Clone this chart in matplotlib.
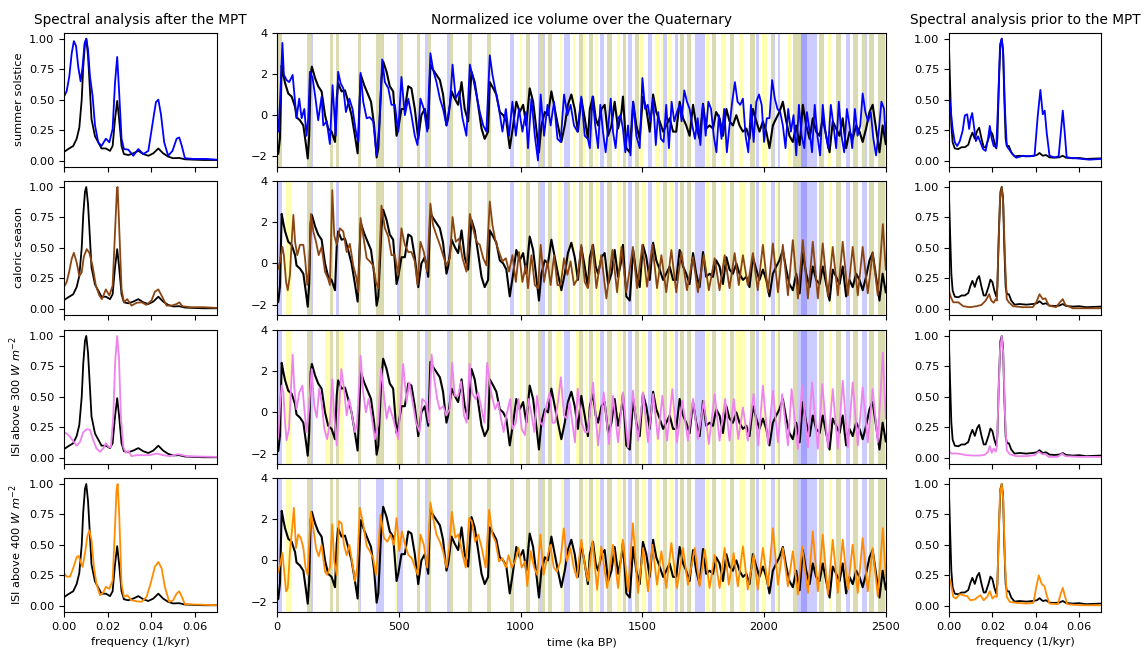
import matplotlib
matplotlib.use("Agg")
import matplotlib.pyplot as plt

plt.rcParams["font.size"] = 8.2

# ---------------- time series (ka BP, normalized) ----------------
ice_t = [0, 4, 11, 18, 25, 32, 45, 59, 73, 79, 93, 107, 118, 125, 131, 137, 142, 155, 168, 182,
         196, 209, 223, 237, 244, 250, 264, 278, 291, 305, 319, 330, 337, 343, 357, 371, 385, 398,
         408, 415, 428, 435, 449, 462, 476, 490, 497, 510, 524, 538, 551, 565, 579, 592, 606, 620,
         629, 640, 654, 668, 681, 695, 702, 716, 729, 743, 757, 770, 784, 798, 811, 825, 839, 852,
         866, 873, 887, 900, 914, 928, 941, 955, 969, 982, 996, 1010, 1023, 1037, 1051, 1064, 1075,
         1085, 1099, 1112, 1126, 1140, 1153, 1167, 1181, 1194, 1208, 1222, 1235, 1249, 1263, 1276,
         1284, 1297, 1308, 1318, 1332, 1345, 1359, 1373, 1386, 1400, 1414, 1420, 1434, 1448, 1462,
         1475, 1489, 1502, 1516, 1530, 1544, 1557, 1571, 1585, 1598, 1612, 1626, 1639, 1653, 1667,
         1680, 1694, 1708, 1721, 1735, 1749, 1762, 1776, 1790, 1803, 1817, 1831, 1845, 1858, 1872,
         1886, 1899, 1913, 1927, 1940, 1954, 1968, 1981, 1995, 2009, 2022, 2036, 2050, 2063, 2077,
         2091, 2104, 2118, 2132, 2146, 2159, 2173, 2187, 2200, 2214, 2228, 2241, 2255, 2269, 2282,
         2296, 2310, 2323, 2337, 2351, 2364, 2378, 2392, 2405, 2419, 2433, 2446, 2460, 2474, 2487,
         2500]
ice_v = [-1.9, -1.87, -1.1, 2.4, 1.95, 1.55, 1.05, 0.9, 0.4, -0.1, -0.25, -0.5, -1.45, -2.1, -1.0,
         1.95, 2.35, 1.8, 1.4, 1.15, 0.0, -0.65, -0.8, -1.3, 0.8, 1.55, 1.15, 1.2, 0.65, 0.0, -1.0,
         -1.85, 0.3, 1.95, 1.45, 1.05, 0.65, -0.5, -2.05, -1.6, 1.7, 2.6, 2.1, 1.4, 1.15, -1.0,
         -0.65, 0.3, 0.3, 1.4, 1.3, 0.3, -1.15, 0.0, 0.3, -0.65, 2.45, 2.2, 1.95, 1.7, 1.0, -0.5,
         -0.15, 1.15, 0.8, 0.5, 1.6, 0.3, -0.3, 2.1, 1.6, 0.5, -0.65, -1.15, -0.8, 1.6, 1.3, 1.0,
         0.15, 0.0, -0.3, -1.6, -0.5, 0.65, 0.15, 0.5, -0.5, 1.3, 0.65, -0.65, -1.8, -0.5, 0.15,
         0.0, 1.15, 0.3, -0.5, -1.3, -0.5, 0.5, 1.0, 0.3, -0.8, 0.8, -0.15, -1.15,
         0.3, 0.9, -0.15, -0.5, 0.3, 0.5, -1.0, -0.5, 0.65, -0.65, 0.15, 0.9, -1.6, -1.8, 0.65,
         -0.5, -1.15, 0.9, 0.3, -0.8, 1.0, 0.15, -0.3, -0.8, -0.5, -0.15, -0.8, -0.8, 0.65, -0.15,
         -0.5, -1.0, 0.5, -0.5, -1.15, 0.55, -0.65, -0.5, -0.65, 0.15, -0.15, -1.0, 0.3, -0.3, -0.5,
         0.0, -0.5, -0.8, -0.65, -1.15, 0.3, -0.3, -0.8, -0.3, -0.8, -1.6, -0.5, -0.15, 0.15, 0.65,
         -0.3, -1.0, -1.3, -0.5, -1.45, 0.5, -0.5, -1.15, -0.15, -0.8, -1.0, -0.15, -1.0, -1.8, -0.3,
         -0.65, -1.0, -0.15, -1.6, -0.8, -1.15, -0.5, -0.8, -1.3, -0.65, 0.15, 0.5, -0.65, -1.8, -0.5,
         -1.4]

sol_t = [0, 4, 11, 21, 27, 38, 49, 63, 73, 79, 90, 100, 111, 120, 127, 134, 145, 157, 168, 182,
         189, 203, 216, 227, 240, 250, 260, 271, 282, 296, 309, 323, 333, 342, 353, 367, 380, 394,
         408, 419, 431, 442, 456, 469, 483, 497, 510, 524, 538, 551, 565, 576, 588, 602, 616, 629,
         640, 654, 668, 681, 695, 709, 720, 733, 747, 761, 777, 791, 804, 818, 832, 846, 859, 873,
         884, 897, 911, 925, 939, 952, 966, 980, 993, 1007, 1021, 1030, 1044, 1058, 1071, 1082, 1096,
         1110, 1123, 1137, 1151, 1164, 1178, 1192, 1205, 1219, 1233, 1249, 1263, 1276,
         1284, 1295, 1306, 1318, 1327, 1338, 1349, 1360, 1370, 1379, 1390, 1400, 1410, 1420, 1430,
         1441, 1451, 1462, 1475, 1489, 1500, 1511, 1522, 1533, 1544, 1555, 1565, 1576, 1587, 1598,
         1609, 1620, 1631, 1642, 1653, 1661, 1672, 1683, 1694, 1705, 1716, 1727, 1738, 1749, 1760,
         1771, 1782, 1793, 1804, 1814, 1825, 1836, 1847, 1858, 1869, 1880, 1891, 1902, 1913, 1924,
         1935, 1946, 1957, 1968, 1979, 1990, 2000, 2011, 2022, 2033, 2044, 2055, 2066, 2077, 2088,
         2099, 2110, 2121, 2132, 2143, 2154, 2165, 2176, 2187, 2197, 2208, 2219, 2230, 2241, 2252,
         2263, 2274, 2285, 2296, 2307, 2318, 2329, 2340, 2351, 2362, 2373, 2384, 2395, 2405, 2416,
         2427, 2438, 2449, 2460, 2471, 2482, 2493, 2500]
sol_v = [-0.8, -0.8, 0.6, 3.5, 1.95, 1.7, 1.6, 1.95, 0.65, -0.15, 0.8, -0.15, 0.3, -1.0, -0.15,
         2.1, 1.8, 0.8, -0.25, 0.9, -0.5, -0.3, -1.4, 1.45, -1.0, 2.1, 1.55, 1.3, 0.15, 0.8, 0.3,
         -0.8, -1.3, 2.05, 0.65, -0.15, -0.1, -0.3, -1.95, -0.5, 2.7, 1.6, 1.3, 0.5, 0.5, -0.8, 1.85,
         0.0, 0.8, 0.0, -1.0, -1.45, 0.8, 0.3, -0.8, 3.0, 2.2, 1.6, 0.8, 0.3, -0.5, 0.5, 2.45, 0.8,
         1.15, -0.15, -1.0, 2.45, 1.8, 1.0, 0.15, -0.5, -0.8, 2.9, 1.95, 1.15, 0.3, -0.8, 0.3, -1.0,
         0.65, -1.0, 0.3, -0.8, 0.15, -1.6, 0.8, -1.0, -2.2, 1.0, -1.0, 0.5, -0.5, 0.65, -1.15, -1.3,
         1.0, 0.0, 0.5, -0.5, -0.8, 0.9, -1.0, -1.15,
         -1.6, 0.9, -0.5, -1.6, 0.5, -0.8, -1.8, -0.5, 0.8, -0.8, -1.6, -0.15, 0.0, -0.65, -1.8,
         -0.5, -1.95, 0.65, -1.0, -1.6, 1.8, 0.3, 0.5, -0.3, 0.8, -1.45, 0.15, -1.15, -1.3, 0.5,
         -1.6, 0.65, -0.3, 0.15, 0.5, -0.3, 1.2, 0.65, 0.3, -0.5, -1.15, -0.15, -1.45, 0.5, -1.0,
         0.65, 0.3, -1.0, -1.8, 0.0, -1.15, 0.3, -1.8, -0.5, 0.65, 1.6, 0.65, 0.5, 0.8, -1.0,
         -1.8, 0.5, -1.3, 0.65, 1.0, 0.5, -1.3, -0.15, -0.15, 1.7, 0.8, 0.3, 0.15, -0.5, -1.6,
         0.3, -0.8, 0.0, -1.95, 0.5, -1.0, -1.6, 0.15, -0.8, -1.8, 0.5, -1.0, -1.95, 0.5, -0.8,
         -1.6, 0.5, -0.5, -1.6, 0.65, -1.0, -1.8, 0.3, -0.5, -1.6, 0.3, -1.0, -0.5, 1.05, 0.15,
         -0.3, 0.15, -1.15, -1.95, -0.8, 0.65, 0.3, -1.15]

cal_t = [0, 4, 11, 21, 27, 36, 43, 52, 59, 66, 73, 82, 93, 107, 114, 123, 131, 138, 148, 159,
         170, 182, 196, 209, 216, 226, 234, 244, 257, 271, 285, 298, 312, 326, 333, 342, 353, 367,
         380, 394, 405, 415, 428, 442, 456, 469, 483, 497, 510, 524, 538, 551, 565, 576, 588, 602,
         616, 629, 640, 654, 668, 681, 695, 709, 720, 733, 747, 761, 777, 791, 804, 818, 832, 846,
         859, 873, 884, 897, 911, 925, 939, 952, 966, 980, 993, 1007, 1021, 1030, 1044, 1058, 1071,
         1082, 1096, 1110, 1123, 1137, 1151, 1164, 1178, 1192, 1205, 1219, 1233, 1249, 1263, 1276,
         1295, 1311, 1331, 1352, 1377, 1396, 1414, 1434, 1461, 1478, 1500, 1519, 1541, 1560, 1578,
         1598, 1619, 1639, 1660, 1683, 1708, 1728, 1752, 1773, 1797, 1817, 1838, 1858, 1879, 1896,
         1913, 1933, 1954, 1974, 1995, 2016, 2036, 2057, 2077, 2098, 2118, 2139, 2159, 2180, 2200,
         2221, 2241, 2262, 2282, 2303, 2323, 2344, 2364, 2385, 2405, 2426, 2446, 2467, 2488, 2500]
cal_v = [-0.3, -0.25, 0.1, 0.8, 0.4, -0.9, -1.3, -0.55, 1.05, 2.35, 1.05, 0.4, 0.9, 0.9, 0.25,
         -1.05, -0.25, 2.4, 1.55, 1.05, 0.4, 0.8, -0.4, -0.75, -1.05, 3.55, 1.35, 0.9, 1.7, 1.55,
         0.55, 0.95, -0.1, -0.75, -1.4, 2.2, 1.35, 0.25, 0.1, -0.1, -0.9, -1.2, 2.8, 1.7, 1.3, 0.4,
         0.4, -0.55, 1.7, 0.9, 0.55, 0.55, 0.1, -1.05, 1.05, 0.55, -0.4, 2.9, 1.85, 1.35, 0.9, 0.4,
         -0.1, 0.25, 2.25, 1.05, 1.2, 0.25, -0.4, 2.4, 1.7, 1.05, 0.9, 0.25, -0.1, 3.0, 1.85, 1.05,
         0.55, 0.1, 0.25, -0.4, 0.4, -0.9, 0.55, -0.9, -0.1, -1.2, 0.4, -1.05, -1.2, 0.9, -0.9, 0.1,
         -1.05, 0.4, -1.05, -1.05, 0.25, -0.55, 0.1, -1.05, -0.75, 0.9, -0.9, -1.2,
         0.9, -1.2, 0.4, -1.7, 0.65, -1.4, 0.8, -1.4, 0.8, -1.2, 0.9, -1.13, 0.9, -1.2, 0.4, -1.4,
         0.65, -1.4, 0.55, -1.3, 0.3, -1.4, 0.4, -1.3, 0.25, -1.3, 0.4, -1.2, 0.5, -1.05, 0.4,
         -1.05, 0.5, -1.3, 0.9, -1.4, 0.97, -1.4, 0.9, -1.55, 1.13, -1.7, 1.13, -1.7, 1.05, -1.7,
         0.97, -1.6, 0.8, -1.55, 1.05, -1.55, 0.8, -1.55, 0.8, -1.45, 0.55, -1.55, 1.9, -0.3]

isi300_t = [0, 4, 11, 18, 25, 32, 38, 48, 56, 63, 70, 79, 90, 103, 111, 120, 130, 141, 152, 162,
            172, 182, 193, 205, 216, 226, 234, 244, 255, 263, 274, 285, 296, 307, 319, 328, 342,
            353, 364, 375, 387, 401, 415, 426, 435, 449, 460, 476, 497, 517, 531, 542, 556, 570,
            585, 595, 610, 623, 634, 645, 657, 667, 682, 694, 708, 718, 729, 743, 755, 767, 778,
            790, 800, 814, 825, 837, 851, 862, 873, 881, 895, 907, 919, 930, 941, 957, 966, 980,
            991, 1004, 1017, 1032, 1045, 1056, 1067, 1081, 1092, 1105, 1119, 1130, 1141, 1153,
            1165, 1178, 1190, 1201, 1212, 1223, 1234, 1250, 1264, 1276,
            1297, 1318, 1341, 1363, 1379, 1400, 1420, 1441, 1461, 1482, 1503, 1523, 1544, 1564,
            1582, 1601, 1623, 1642, 1664, 1687, 1708, 1728, 1752, 1773, 1797, 1817, 1840, 1858,
            1875, 1894, 1913, 1933, 1957, 1976, 1995, 2016, 2036, 2057, 2074, 2098, 2113, 2139,
            2156, 2180, 2197, 2221, 2239, 2262, 2282, 2303, 2323, 2344, 2364, 2385, 2405, 2426,
            2446, 2467, 2488, 2500]
isi300_v = [-1.3, -1.2, 0.3, 1.3, 0.95, -0.5, -1.35, -0.8, 1.15, 2.8, 1.15, 0.15, 0.95, 1.3, 0.15,
            -0.95, 0.15, 2.1, 0.3, -0.25, 1.15, 0.5, -0.8, -1.3, -0.5, 1.6, -0.15, -1.6, 0.3, 2.1,
            1.15, -0.15, 0.65, -0.15, -0.95, -0.5, 2.75, 0.95, 0.0, 0.65, -0.15, -1.3, -0.5, 2.1,
            1.15, -0.3, 0.3, -0.3, -1.3, 2.35, 0.5, 1.45, 0.5, -0.5, -0.95, 0.65, 0.5, -0.5, 2.8,
            1.6, 0.65, 0.15, 0.3, -0.15, 0.15, 2.4, 0.8, 0.8, 1.5, -0.15, -0.5, 2.35, 0.95, 0.65,
            0.95, 0.3, -0.5, 2.4, 1.45, 0.8, 0.15, 0.5, -0.3, -0.95, -0.15, 0.65, -0.8, -0.5, 0.65,
            -0.8, -1.1, 0.65, -0.15, -0.95, 0.8, -0.5, -0.65, 0.3, 0.95, -0.5, -0.5, 0.5, 1.7,
            -0.15, -0.3, 0.5, -0.5, -1.45, 1.15, -0.5, -0.95, -0.95,
            1.45, -1.6, 0.97, -1.53, 0.8, -1.45, 0.97, -1.7, 1.05, -1.37, 0.97, -1.45, 0.89, -1.29,
            0.8, -1.37, 1.13, -1.45, 0.56, -1.37, 0.65, -1.29, 0.56, -1.53, 0.89, -1.37, 0.65,
            -1.37, 0.65, -1.29, 0.24, -1.37, 0.89, -1.6, 1.29, -1.53, 1.05, -1.45, 0.89, -1.6,
            1.13, -1.77, 1.29, -1.7, 1.45, -1.77, 1.37, -1.7, 1.13, -1.77, 1.53, -1.7, 1.45, -1.6,
            1.21, -1.45, 1.13, -1.45, 2.9, -0.3]

isi400_t = [0, 4, 11, 21, 27, 36, 43, 52, 62, 68, 77, 86, 96, 107, 116, 125, 131, 138, 148, 159,
            170, 182, 196, 205, 216, 226, 234, 244, 253, 264, 274, 285, 296, 307, 319, 328, 339,
            353, 367, 380, 394, 405, 415, 424, 438, 452, 465, 479, 490, 501, 512, 525, 539, 553,
            566, 577, 588, 602, 616, 629, 640, 654, 668, 681, 695, 706, 717, 731, 744, 758, 774,
            788, 799, 813, 826, 840, 856, 870, 884, 897, 911, 925, 939, 950, 963, 977, 991, 1004,
            1018, 1027, 1041, 1055, 1068, 1081, 1094, 1108, 1122, 1136, 1149, 1163, 1177, 1190,
            1204, 1218, 1231, 1249, 1263, 1276,
            1295, 1314, 1331, 1355, 1379, 1400, 1420, 1441, 1461, 1482, 1503, 1523, 1541, 1560,
            1578, 1598, 1619, 1642, 1667, 1687, 1715, 1735, 1756, 1776, 1797, 1817, 1838, 1855,
            1875, 1892, 1913, 1933, 1957, 1974, 1995, 2016, 2036, 2057, 2077, 2098, 2118, 2139,
            2156, 2180, 2200, 2221, 2241, 2262, 2282, 2303, 2323, 2344, 2364, 2385, 2405, 2426,
            2446, 2467, 2488, 2500]
isi400_v = [-0.6, -0.55, -0.2, 0.35, -0.35, -1.5, -1.35, 0.45, 1.65, 2.55, 0.6, 1.25, 1.1, 0.6,
            -0.35, -0.7, 0.9, 2.35, 1.55, 0.6, 0.2, 0.75, -0.55, -0.7, -0.35, 1.75, -0.05, -0.7,
            1.9, 1.8, 0.75, 0.25, 0.75, -0.05, -1.0, -0.35, 2.55, 1.75, 0.7, 0.45, 0.1, -0.7, 0.6,
            2.2, 1.1, 0.9, 1.25, 0.75, 2.05, 0.45, 1.4, 0.75, 0.25, 0.1, -0.35, -0.7, 1.25, 0.75,
            -0.35, 2.8, 2.05, 1.25, 0.9, 0.45, -0.35, 0.6, 2.35, 1.1, 1.25, 0.45, -0.35, 2.05, 1.9,
            0.9, 1.25, 0.6, -0.35, 2.45, 1.25, 0.9, -0.05, 0.1, -0.35, 0.25, -0.35, -0.05, 0.6,
            -0.35, -0.05, -1.25, 0.45, -0.35, -0.7, 1.25, -0.7, 0.1, 0.75, -0.35, -0.55, -0.05,
            1.55, -0.05, 0.6, -0.35, -0.85, 1.0, -0.2, -1.0,
            0.92, -1.42, 0.68, -1.34, 0.76, -1.34, 1.0, -1.5, 1.8, -1.58, 0.6, -1.5, 0.76, -1.18,
            0.44, -1.34, 0.84, -1.34, 0.6, -1.18, 0.6, -1.26, 0.52, -1.34, 0.27, -1.34, 0.6, -1.18,
            0.35, -1.26, 0.68, -1.42, 0.27, -1.42, 0.6, -1.26, 1.56, -1.18, 0.6, -1.26, 0.44,
            -1.66, 0.68, -1.58, 1.4, -1.5, 1.24, -1.66, 1.0, -1.58, 1.0, -1.42, 0.76, -1.58, 1.08,
            -1.5, 0.6, -1.74, 1.56, -0.85]

# ---------------- shaded periods (ka BP) ----------------
blue_spans = [(0, 20), (123, 145), (216, 227), (240, 255), (330, 345), (405, 439), (490, 515),
              (572, 588), (607, 633), (696, 722), (783, 799), (860, 878), (955, 971), (1023, 1040),
              (1071, 1099), (1112, 1130), (1177, 1204), (1240, 1256), (1281, 1297), (1327, 1341),
              (1355, 1377), (1420, 1434), (1441, 1459), (1468, 1486), (1523, 1541), (1585, 1601),
              (1632, 1646), (1653, 1669), (1683, 1701), (1715, 1756), (1787, 1803), (1858, 1875),
              (1943, 1961), (1968, 1981), (2029, 2043), (2057, 2066), (2118, 2175), (2150, 2217),
              (2225, 2248), (2296, 2317), (2337, 2354), (2364, 2385), (2403, 2422),
              (2433, 2453), (2467, 2498)]

yellow_sol = [(0, 20), (123, 140), (216, 227), (240, 255), (330, 345), (405, 435), (500, 515),
              (575, 588), (617, 633), (709, 722), (783, 799), (860, 878), (996, 1006), (1023, 1040),
              (1075, 1090), (1112, 1130), (1160, 1170), (1215, 1225), (1240, 1267), (1281, 1297),
              (1304, 1318), (1355, 1377), (1396, 1410), (1420, 1434), (1468, 1486), (1489, 1503),
              (1550, 1571), (1578, 1590), (1605, 1620), (1653, 1669), (1683, 1701), (1762, 1779),
              (1787, 1803), (1824, 1845), (1858, 1875), (1896, 1913), (1943, 1961), (1990, 2010),
              (2029, 2040), (2098, 2111), (2118, 2150), (2225, 2248), (2262, 2275), (2296, 2317),
              (2364, 2385), (2400, 2420), (2433, 2453), (2467, 2498)]
yellow_cal = [(35, 62), (123, 140), (216, 230), (330, 345), (405, 435), (503, 515), (575, 588),
              (617, 633), (709, 722), (783, 799), (860, 878), (996, 1006), (1023, 1040),
              (1071, 1080), (1112, 1130), (1155, 1165), (1190, 1204), (1215, 1225), (1240, 1256),
              (1263, 1273), (1281, 1297), (1311, 1322), (1355, 1377), (1396, 1413), (1420, 1434),
              (1468, 1486), (1500, 1516), (1555, 1574), (1585, 1601), (1609, 1625), (1653, 1669),
              (1683, 1701), (1762, 1776), (1787, 1803), (1824, 1845), (1858, 1875), (1896, 1920),
              (1943, 1961), (1992, 2009), (2050, 2066), (2118, 2135), (2225, 2248), (2265, 2280),
              (2296, 2317), (2364, 2385), (2433, 2453), (2467, 2498)]
yellow_300 = [(35, 62), (123, 140), (196, 227), (240, 268), (330, 345), (405, 435), (483, 515),
              (575, 588), (617, 633), (709, 722), (783, 799), (860, 878), (955, 971), (996, 1006),
              (1023, 1040), (1071, 1085), (1112, 1130), (1147, 1167), (1226, 1256), (1263, 1273),
              (1281, 1297), (1311, 1322), (1355, 1377), (1396, 1413), (1420, 1434), (1468, 1486),
              (1500, 1516), (1555, 1574), (1585, 1601), (1609, 1625), (1653, 1669), (1683, 1701),
              (1762, 1776), (1787, 1803), (1824, 1845), (1858, 1875), (1880, 1920), (1943, 1961),
              (1992, 2009), (2050, 2066), (2118, 2135), (2225, 2248), (2265, 2280), (2296, 2317),
              (2364, 2385), (2433, 2453), (2467, 2498)]
yellow_400 = [(35, 62), (123, 140), (216, 227), (240, 255), (330, 338), (483, 490), (575, 588),
              (617, 633), (709, 722), (783, 799), (860, 878), (955, 971), (1023, 1040),
              (1071, 1078), (1085, 1099), (1112, 1130), (1165, 1177), (1240, 1256), (1263, 1273),
              (1281, 1297), (1311, 1322), (1355, 1377), (1396, 1413), (1420, 1434), (1468, 1486),
              (1500, 1516), (1555, 1574), (1585, 1601), (1609, 1625), (1653, 1669), (1683, 1701),
              (1762, 1776), (1787, 1803), (1824, 1845), (1858, 1875), (1896, 1920), (1943, 1961),
              (1992, 2009), (2050, 2066), (2118, 2135), (2225, 2248), (2265, 2280), (2296, 2317),
              (2364, 2385), (2433, 2453), (2467, 2498)]

# ---------------- spectra after the MPT (frequency 1/kyr, normalized power) ----------------
post_ice_f = [0, 0.0018, 0.0041, 0.0057, 0.0069, 0.008, 0.0087, 0.0095, 0.0101, 0.0109, 0.0115,
              0.0125, 0.0141, 0.0156, 0.0171, 0.0191, 0.021, 0.0222, 0.0233, 0.0243, 0.0252,
              0.0263, 0.0274, 0.0294, 0.0317, 0.034, 0.0363, 0.0386, 0.0409, 0.0432, 0.0454,
              0.0477, 0.05, 0.0528, 0.0554, 0.0592, 0.0638, 0.07]
post_ice_p = [0.073, 0.095, 0.12, 0.18, 0.27, 0.5, 0.77, 0.96, 1.0, 0.86, 0.67, 0.34, 0.2, 0.15,
              0.1, 0.1, 0.08, 0.12, 0.34, 0.49, 0.34, 0.12, 0.054, 0.046, 0.06, 0.08, 0.054, 0.04,
              0.06, 0.1, 0.06, 0.033, 0.02, 0.022, 0.011, 0.008, 0.005, 0.005]

post_sol_f = [0, 0.0011, 0.0023, 0.0034, 0.0044, 0.0054, 0.0064, 0.0075, 0.0084, 0.0093, 0.0101,
              0.0109, 0.0118, 0.013, 0.0141, 0.0156, 0.0171, 0.0191, 0.0207, 0.0222, 0.0233,
              0.0243, 0.0252, 0.0263, 0.0274, 0.0294, 0.0317, 0.034, 0.0363, 0.0386, 0.0406,
              0.0421, 0.0432, 0.0444, 0.0459, 0.0477, 0.0497, 0.0516, 0.0528, 0.054, 0.0554,
              0.0592, 0.0653, 0.07]
post_sol_p = [0.53, 0.57, 0.69, 0.88, 0.98, 0.94, 0.77, 0.65, 0.77, 0.96, 1.0, 0.91, 0.69, 0.53,
              0.29, 0.15, 0.12, 0.18, 0.15, 0.26, 0.64, 0.85, 0.56, 0.18, 0.095, 0.09, 0.04, 0.095,
              0.054, 0.08, 0.31, 0.48, 0.5, 0.38, 0.15, 0.04, 0.08, 0.18, 0.19, 0.12, 0.02, 0.014,
              0.014, 0.008]

post_cal_f = [0, 0.0011, 0.0023, 0.0034, 0.0044, 0.0057, 0.0069, 0.008, 0.009, 0.0103, 0.0115,
              0.013, 0.0145, 0.0161, 0.0173, 0.0191, 0.0207, 0.0222, 0.0233, 0.0242, 0.0245,
              0.0252, 0.0263, 0.0274, 0.0289, 0.0309, 0.0332, 0.0355, 0.0378, 0.0401, 0.0416,
              0.0432, 0.0451, 0.047, 0.0493, 0.0516, 0.0528, 0.0543, 0.0577, 0.0638, 0.07]
post_cal_p = [0.185, 0.22, 0.31, 0.41, 0.46, 0.38, 0.27, 0.3, 0.43, 0.49, 0.46, 0.35, 0.19, 0.11,
              0.08, 0.16, 0.11, 0.19, 0.63, 0.99, 1.0, 0.68, 0.16, 0.054, 0.08, 0.027, 0.05, 0.054,
              0.033, 0.07, 0.14, 0.16, 0.095, 0.027, 0.027, 0.04, 0.054, 0.022, 0.014, 0.014, 0.008]

post_300_f = [0, 0.0018, 0.0038, 0.0057, 0.0072, 0.0087, 0.0103, 0.0118, 0.0133, 0.0148, 0.0164,
              0.0179, 0.0191, 0.0204, 0.0214, 0.0225, 0.0234, 0.0243, 0.0251, 0.026, 0.0271,
              0.0283, 0.0294, 0.0309, 0.0332, 0.0363, 0.0393, 0.0424, 0.0454, 0.0485, 0.0523,
              0.0562, 0.0623, 0.07]
post_300_p = [0.21, 0.19, 0.145, 0.1, 0.13, 0.21, 0.235, 0.23, 0.145, 0.077, 0.05, 0.077, 0.12,
              0.09, 0.085, 0.34, 0.8, 1.0, 0.83, 0.34, 0.09, 0.041, 0.057, 0.014, 0.022, 0.022,
              0.022, 0.036, 0.022, 0.014, 0.03, 0.014, 0.011, 0.008]

post_400_f = [0, 0.0011, 0.0026, 0.0041, 0.0057, 0.0066, 0.0077, 0.0084, 0.0095, 0.0106, 0.0115,
              0.0125, 0.0136, 0.0148, 0.0164, 0.0179, 0.0191, 0.0207, 0.0222, 0.0233, 0.024,
              0.0245, 0.0252, 0.0263, 0.0274, 0.0289, 0.0309, 0.0332, 0.0355, 0.0378, 0.0396,
              0.0416, 0.0432, 0.0447, 0.0462, 0.0482, 0.05, 0.0516, 0.0528, 0.054, 0.0554, 0.0607,
              0.07]
post_400_p = [0.265, 0.24, 0.24, 0.31, 0.4, 0.41, 0.35, 0.32, 0.43, 0.57, 0.62, 0.54, 0.32, 0.18,
              0.087, 0.11, 0.156, 0.14, 0.21, 0.65, 0.95, 1.0, 0.76, 0.18, 0.074, 0.087, 0.046,
              0.038, 0.033, 0.074, 0.18, 0.32, 0.36, 0.31, 0.156, 0.033, 0.046, 0.1, 0.12, 0.074,
              0.014, 0.011, 0.005]

# ---------------- spectra prior to the MPT ----------------
pre_ice_f = [0, 0.0005, 0.0011, 0.0017, 0.0027, 0.0043, 0.0058, 0.0073, 0.0089, 0.0099, 0.0108,
             0.0119, 0.013, 0.0139, 0.015, 0.016, 0.0169, 0.0182, 0.0191, 0.02, 0.0209, 0.0218,
             0.0223, 0.023, 0.0237, 0.0243, 0.0249, 0.0255, 0.0261, 0.0267, 0.0276, 0.0287,
             0.0302, 0.0325, 0.0356, 0.0386, 0.0405, 0.0417, 0.0432, 0.0447, 0.0463, 0.0485,
             0.0508, 0.0524, 0.0539, 0.057, 0.06, 0.0631, 0.07]
pre_ice_p = [0.94, 0.64, 0.29, 0.15, 0.1, 0.095, 0.11, 0.11, 0.13, 0.19, 0.23, 0.18, 0.245, 0.27,
             0.18, 0.11, 0.11, 0.18, 0.24, 0.22, 0.15, 0.1, 0.18, 0.64, 0.96, 1.0, 0.91, 0.5,
             0.18, 0.12, 0.12, 0.068, 0.035, 0.04, 0.035, 0.04, 0.046, 0.063, 0.04, 0.046, 0.027,
             0.024, 0.027, 0.04, 0.024, 0.019, 0.022, 0.014, 0.019]

pre_sol_f = [0, 0.0008, 0.0017, 0.0027, 0.0038, 0.005, 0.0063, 0.0073, 0.0084, 0.0093, 0.0099,
             0.0107, 0.0115, 0.0124, 0.0134, 0.0145, 0.0157, 0.0169, 0.018, 0.0188, 0.0197,
             0.0206, 0.0218, 0.0227, 0.0235, 0.0243, 0.025, 0.0258, 0.0266, 0.0276, 0.0292,
             0.031, 0.034, 0.0371, 0.0394, 0.0409, 0.0421, 0.0432, 0.0441, 0.045, 0.0463, 0.0485,
             0.0505, 0.0515, 0.0524, 0.0533, 0.0542, 0.0585, 0.0646, 0.07]
pre_sol_p = [0.54, 0.42, 0.26, 0.15, 0.12, 0.16, 0.245, 0.37, 0.38, 0.26, 0.34, 0.39, 0.285,
             0.16, 0.2, 0.15, 0.095, 0.08, 0.18, 0.285, 0.18, 0.12, 0.11, 0.5, 0.94, 1.0, 0.88,
             0.42, 0.12, 0.095, 0.054, 0.024, 0.04, 0.035, 0.04, 0.37, 0.58, 0.38, 0.41, 0.23,
             0.04, 0.027, 0.035, 0.23, 0.41, 0.23, 0.027, 0.019, 0.008, 0.014]

pre_cal_f = [0, 0.0009, 0.002, 0.0043, 0.0066, 0.0096, 0.0127, 0.015, 0.0169, 0.0185, 0.0195,
             0.0206, 0.0215, 0.0221, 0.0227, 0.0235, 0.0243, 0.025, 0.0258, 0.0266, 0.0276,
             0.0295, 0.034, 0.0386, 0.0402, 0.0417, 0.0432, 0.0444, 0.046, 0.0493, 0.0511,
             0.0524, 0.0536, 0.057, 0.07]
pre_cal_p = [0.15, 0.095, 0.054, 0.054, 0.022, 0.014, 0.022, 0.033, 0.068, 0.12, 0.068, 0.05,
             0.08, 0.068, 0.46, 0.9, 1.0, 0.87, 0.41, 0.08, 0.054, 0.022, 0.014, 0.014, 0.054,
             0.12, 0.08, 0.087, 0.027, 0.014, 0.054, 0.08, 0.033, 0.005, 0.005]

pre_300_f = [0, 0.0012, 0.0035, 0.0058, 0.0081, 0.0111, 0.0142, 0.0165, 0.018, 0.0188, 0.0197,
             0.0206, 0.0215, 0.0221, 0.0227, 0.0235, 0.0243, 0.025, 0.0258, 0.0266, 0.028, 0.031,
             0.0356, 0.0394, 0.0414, 0.0429, 0.0444, 0.046, 0.0501, 0.0521, 0.0536, 0.06, 0.07]
pre_300_p = [0.05, 0.036, 0.036, 0.03, 0.022, 0.019, 0.019, 0.025, 0.05, 0.096, 0.041, 0.077,
             0.05, 0.09, 0.45, 0.88, 1.0, 0.86, 0.36, 0.063, 0.03, 0.014, 0.014, 0.022, 0.05,
             0.03, 0.03, 0.008, 0.008, 0.036, 0.014, 0.008, 0.008]

pre_400_f = [0, 0.0009, 0.002, 0.0032, 0.005, 0.0066, 0.0084, 0.0099, 0.0119, 0.0134, 0.0145,
             0.016, 0.0176, 0.0188, 0.02, 0.0211, 0.0221, 0.0227, 0.0235, 0.0243, 0.025, 0.0258,
             0.0266, 0.028, 0.031, 0.0356, 0.0389, 0.0402, 0.0414, 0.0427, 0.044, 0.045, 0.0463,
             0.0501, 0.0515, 0.0524, 0.0533, 0.0544, 0.06, 0.07]
pre_400_p = [0.24, 0.18, 0.074, 0.06, 0.096, 0.087, 0.08, 0.046, 0.052, 0.074, 0.087, 0.046,
             0.074, 0.12, 0.06, 0.08, 0.074, 0.43, 0.92, 1.0, 0.87, 0.37, 0.074, 0.033, 0.025,
             0.019, 0.025, 0.156, 0.25, 0.18, 0.16, 0.087, 0.019, 0.014, 0.1, 0.148, 0.087, 0.014,
             0.005, 0.005]

row_labels = ["summer solstice", "caloric season",
              r"ISI above 300 $W\ m^{-2}$", r"ISI above 400 $W\ m^{-2}$"]
row_colors = ["blue", "saddlebrown", "violet", "darkorange"]
row_series = [(sol_t, sol_v), (cal_t, cal_v), (isi300_t, isi300_v), (isi400_t, isi400_v)]
row_yellow = [yellow_sol, yellow_cal, yellow_300, yellow_400]
row_post = [(post_sol_f, post_sol_p), (post_cal_f, post_cal_p),
            (post_300_f, post_300_p), (post_400_f, post_400_p)]
row_pre = [(pre_sol_f, pre_sol_p), (pre_cal_f, pre_cal_p),
           (pre_300_f, pre_300_p), (pre_400_f, pre_400_p)]

fig = plt.figure(figsize=(11.44, 6.48), dpi=100)

col_x = [0.0562, 0.2424, 0.8295]
col_w = [0.1332, 0.5319, 0.1329]
row_y = [0.7427, 0.5139, 0.2840, 0.0556]
row_h = 0.207

for i in range(4):
    color = row_colors[i]
    last = i == 3

    # left: spectrum after the MPT
    ax = fig.add_axes([col_x[0], row_y[i], col_w[0], row_h])
    ax.plot(post_ice_f, post_ice_p, color="k", lw=1.3)
    ax.plot(*row_post[i], color=color, lw=1.3)
    ax.set_xlim(0, 0.07)
    ax.set_ylim(-0.05, 1.05)
    ax.set_xticks([0, 0.02, 0.04, 0.06])
    ax.set_ylabel(row_labels[i])
    if last:
        ax.set_xlabel("frequency (1/kyr)")
    else:
        ax.tick_params(labelbottom=False)
    if i == 0:
        ax.set_title("Spectral analysis after the MPT", fontsize=9.8)

    # middle: time series with shaded periods
    ax = fig.add_axes([col_x[1], row_y[i], col_w[1], row_h])
    for a, b in blue_spans:
        ax.axvspan(a, b, color="blue", alpha=0.2, lw=0)
    for a, b in row_yellow[i]:
        ax.axvspan(a, b, color="yellow", alpha=0.3, lw=0)
    ax.plot(ice_t, ice_v, color="k", lw=1.5)
    ax.plot(*row_series[i], color=color, lw=1.3)
    ax.set_xlim(0, 2500)
    ax.set_ylim(-2.5, 4)
    ax.set_yticks([-2, 0, 2, 4])
    if last:
        ax.set_xlabel("time (ka BP)")
    else:
        ax.tick_params(labelbottom=False)
    if i == 0:
        ax.set_title("Normalized ice volume over the Quaternary", fontsize=9.8)

    # right: spectrum prior to the MPT
    ax = fig.add_axes([col_x[2], row_y[i], col_w[2], row_h])
    ax.plot(pre_ice_f, pre_ice_p, color="k", lw=1.3)
    ax.plot(*row_pre[i], color=color, lw=1.3)
    ax.set_xlim(0, 0.07)
    ax.set_ylim(-0.05, 1.05)
    ax.set_xticks([0, 0.02, 0.04, 0.06])
    if last:
        ax.set_xlabel("frequency (1/kyr)")
    else:
        ax.tick_params(labelbottom=False)
    if i == 0:
        ax.set_title("Spectral analysis prior to the MPT", fontsize=9.8)

fig.savefig("out.png", dpi=100)
